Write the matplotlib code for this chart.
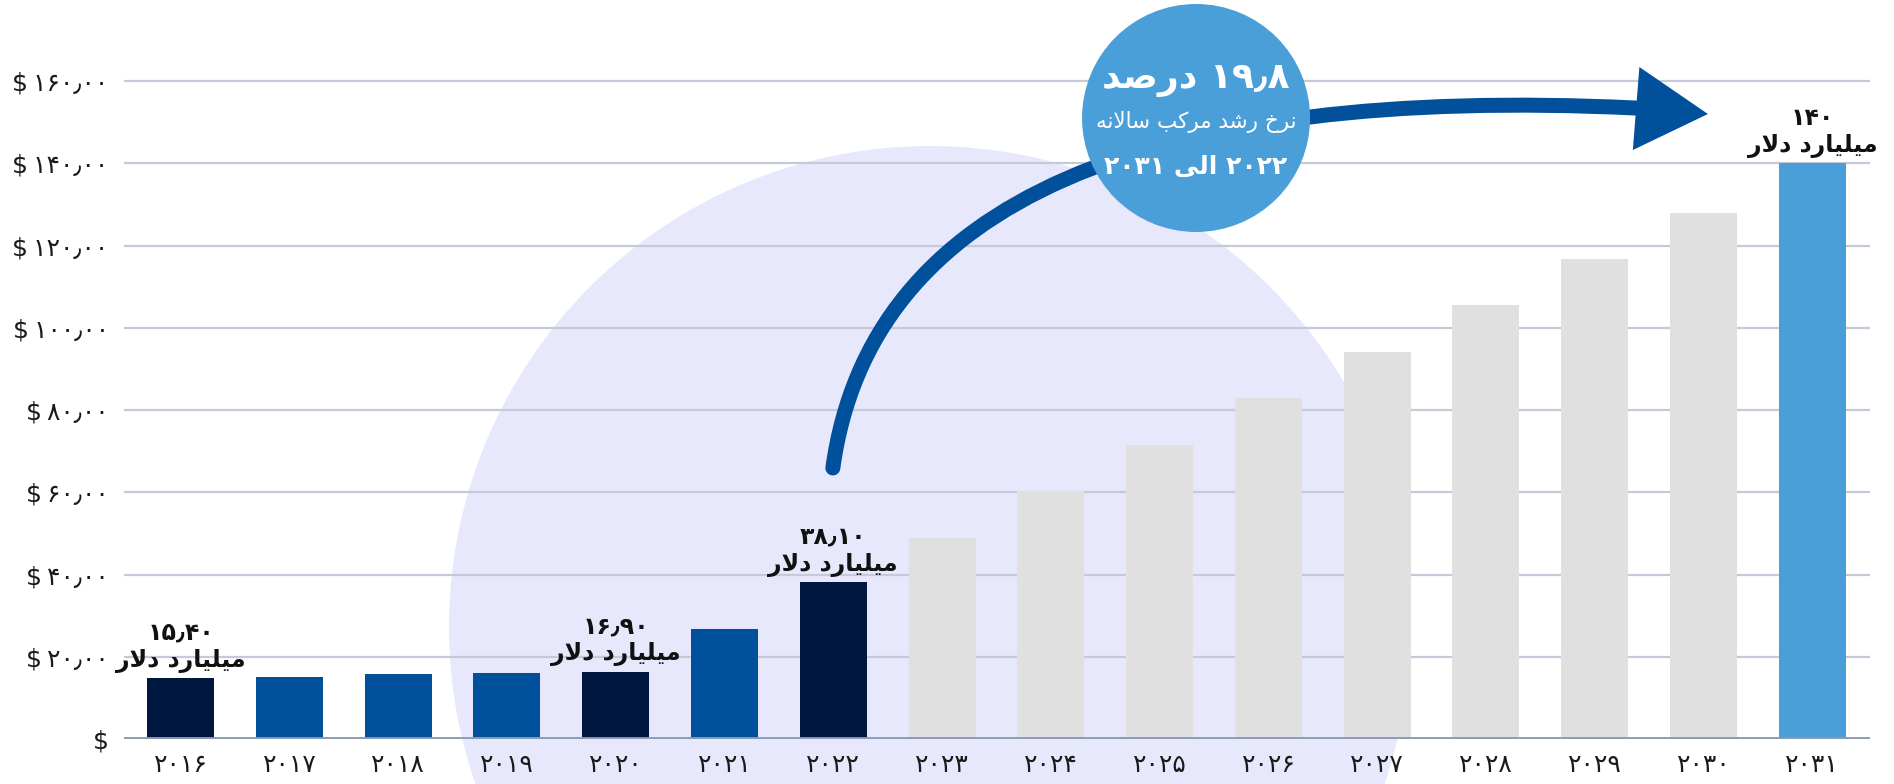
import numpy as np
import matplotlib
matplotlib.use("Agg")
import matplotlib.pyplot as plt
from matplotlib.patches import Ellipse, PathPatch, Polygon
from matplotlib.path import Path

plt.rcParams['font.family'] = ['DejaVu Sans']

years = [2016, 2017, 2018, 2019, 2020, 2021, 2022, 2023,
         2024, 2025, 2026, 2027, 2028, 2029, 2030, 2031]
values = [14.8, 15.1, 15.8, 16.05, 16.3, 26.7, 38.1, 48.9,
          60.3, 71.5, 82.9, 94.1, 105.5, 116.8, 128.0, 140.0]
kinds = ['dark', 'blue', 'blue', 'blue', 'dark', 'blue', 'dark', 'fc',
         'fc', 'fc', 'fc', 'fc', 'fc', 'fc', 'fc', 'last']
labeled = {2016: '15.40', 2020: '16.90', 2022: '38.10', 2031: '140'}
unit_text = 'میلیارد دلار'
yticks = [0, 20, 40, 60, 80, 100, 120, 140, 160]
badge_lines = ['19.8 درصد', 'نرخ رشد مرکب سالانه', '2022 الی 2031']

colors = {'dark': '#00173F', 'blue': '#00509B', 'fc': '#E0E0E0', 'last': '#4A9FD8'}

# --- minimal persian shaping (matplotlib has no RTL / joining support) ---
FORMS = {
    'ا': ('\uFE8D', '\uFE8E', None, None),
    'ب': ('\uFE8F', '\uFE90', '\uFE91', '\uFE92'),
    'خ': ('\uFEA5', '\uFEA6', '\uFEA7', '\uFEA8'),
    'د': ('\uFEA9', '\uFEAA', None, None),
    'ر': ('\uFEAD', '\uFEAE', None, None),
    'س': ('\uFEB1', '\uFEB2', '\uFEB3', '\uFEB4'),
    'ش': ('\uFEB5', '\uFEB6', '\uFEB7', '\uFEB8'),
    'ص': ('\uFEB9', '\uFEBA', '\uFEBB', '\uFEBC'),
    'ل': ('\uFEDD', '\uFEDE', '\uFEDF', '\uFEE0'),
    'م': ('\uFEE1', '\uFEE2', '\uFEE3', '\uFEE4'),
    'ن': ('\uFEE5', '\uFEE6', '\uFEE7', '\uFEE8'),
    'ه': ('\uFEE9', '\uFEEA', '\uFEEB', '\uFEEC'),
    'ی': ('\uFBFC', '\uFBFD', '\uFBFE', '\uFBFF'),
    'ک': ('\uFB8E', '\uFB8F', '\uFB90', '\uFB91'),
}


def joins_left(c):
    return c in FORMS and FORMS[c][2] is not None


def shape_word(w):
    res = []
    i = 0
    while i < len(w):
        c = w[i]
        prev = w[i - 1] if i > 0 else ''
        nxt = w[i + 1] if i + 1 < len(w) else ''
        if c not in FORMS:
            res.append(c)
            i += 1
            continue
        p = joins_left(prev)
        if c == 'ل' and nxt == 'ا':
            res.append('\uFEFC' if p else '\uFEFB')
            i += 2
            continue
        q = nxt in FORMS and FORMS[c][2] is not None
        iso, fin, ini, med = FORMS[c]
        if p and q:
            res.append(med)
        elif p:
            res.append(fin)
        elif q:
            res.append(ini)
        else:
            res.append(iso)
        i += 1
    return ''.join(reversed(res))


def fa(s):
    return s.translate(str.maketrans('0123456789.', '۰۱۲۳۴۵۶۷۸۹٫'))


def rtl(text):
    out = []
    for tok in text.split(' '):
        if any(ch in FORMS for ch in tok):
            out.append(shape_word(tok))
        else:
            out.append(fa(tok))
    return ' '.join(reversed(out))


fig = plt.figure(figsize=(18.94, 7.84), dpi=100)
ax = fig.add_axes([124 / 1894, 45 / 784, 1746 / 1894, 739 / 784])
ax.set_facecolor('none')

# big lavender circle behind everything
fig.add_artist(Ellipse((0.4910, 0.2003), 0.5079, 1.2270, transform=fig.transFigure,
                       facecolor='#E8E8FC', edgecolor='none', zorder=-1))

x = np.arange(len(years))
ax.bar(x, values, width=0.616, color=[colors[k] for k in kinds], zorder=2)

ax.set_xlim(-0.52, 15.53)
ax.set_ylim(0, 179.7)
ax.set_axisbelow(True)
ax.yaxis.grid(True, color='#C5CAD9', lw=1.6)
ax.axhline(0, color='#8C9BB6', lw=3.5, zorder=3)
for s in ax.spines.values():
    s.set_visible(False)

ax.set_yticks(yticks)
ax.set_yticklabels(['$' if v == 0 else '$\u2009' + fa(f'{v:.2f}') for v in yticks],
                   fontsize=18, color='#1A1A1A')
ax.set_xticks(x)
ax.set_xticklabels([fa(str(y)) for y in years], fontsize=18, color='#1A1A1A')
ax.tick_params(length=0)
ax.tick_params(axis='y', pad=11)
ax.tick_params(axis='x', pad=10)

for i, (yr, v) in enumerate(zip(years, values)):
    if yr in labeled:
        ax.annotate(fa(labeled[yr]) + '\n' + rtl(unit_text), (i, v), xytext=(0, 4),
                    textcoords='offset points', ha='center', va='bottom',
                    fontsize=17, fontweight='bold', color='#111111',
                    linespacing=1.15, zorder=4)

# growth arrow from 2022 bar to 2031
verts = [(5.996, 65.9), (6.336, 131.06), (8.91, 159.03), (13.377, 153.43)]
arrow = PathPatch(Path(verts, [Path.MOVETO, Path.CURVE4, Path.CURVE4, Path.CURVE4]),
                  facecolor='none', edgecolor='#00509B', lw=10.8, capstyle='round',
                  zorder=5, clip_on=False)
ax.add_patch(arrow)
ax.add_patch(Polygon([(13.41, 163.4), (14.04, 151.98), (13.35, 143.22)], closed=True,
                     facecolor='#00509B', edgecolor='none', zorder=5, clip_on=False))

# CAGR badge
fig.add_artist(Ellipse((0.6315, 0.8495), 0.1204, 0.2908, transform=fig.transFigure,
                       facecolor='#4A9FD8', edgecolor='none', zorder=5))
fig.text(0.6315, 0.898, rtl(badge_lines[0]), ha='center', va='center', fontsize=26,
         fontweight='bold', color='white', zorder=6)
fig.text(0.6315, 0.8444, rtl(badge_lines[1]), ha='center', va='center', fontsize=15.5,
         color='white', zorder=6)
fig.text(0.6315, 0.787, rtl(badge_lines[2]), ha='center', va='center', fontsize=18,
         fontweight='bold', color='white', zorder=6)

fig.savefig('out.png', dpi=100)
